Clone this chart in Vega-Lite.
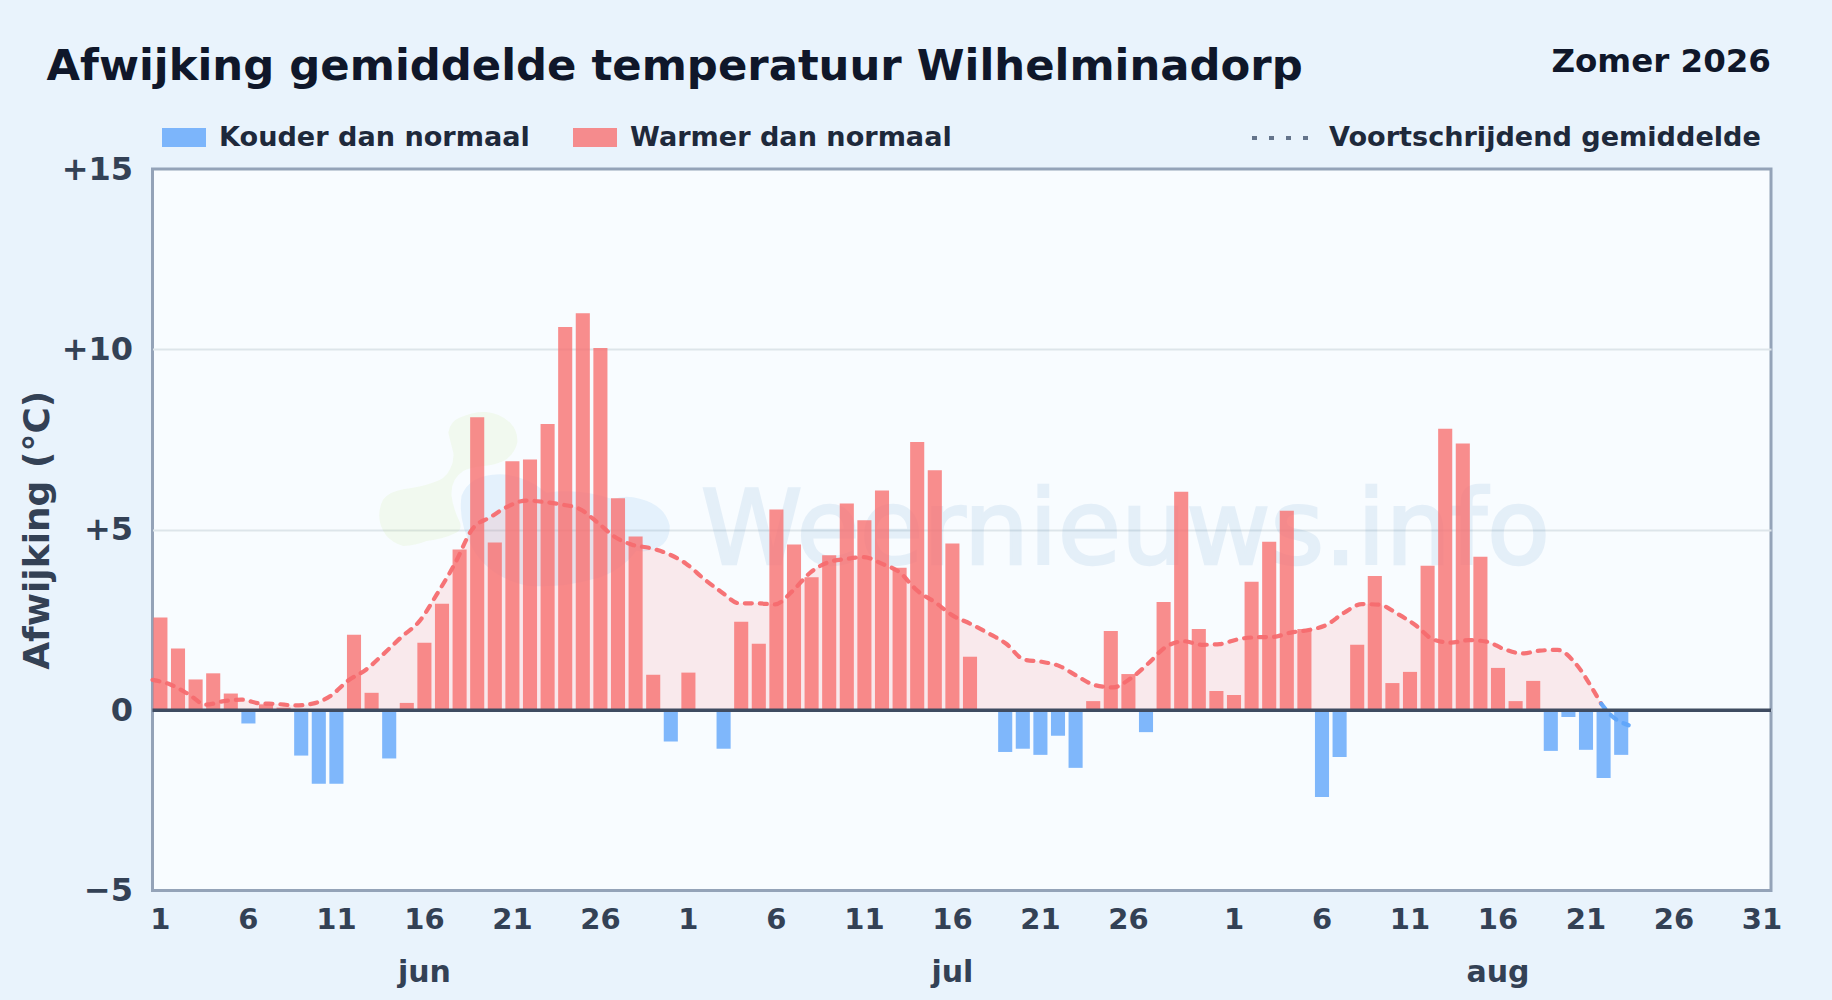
{"$schema":"https://vega.github.io/schema/vega-lite/v6.json","autosize":{"type":"none"},"padding":{"left":152.5,"top":169,"right":61,"bottom":109.5},"width":1618.5,"height":721.5,"background":"#e9f3fc","view":{"fill":"#f8fcff","stroke":"#94a3b8","strokeWidth":3},"config":{"font":"DejaVu Sans"},"title":{"text":"Afwijking gemiddelde temperatuur Wilhelminadorp","anchor":"start","frame":"group","dx":-106,"dy":63,"offset":20,"fontSize":43.35,"fontWeight":"bold","color":"#0f172a","font":"DejaVu Sans"},
"datasets":{"dagen":[{"dag":"06-01","afwijking":2.57,"soort":"Warmer dan normaal"},{"dag":"06-02","afwijking":1.71,"soort":"Warmer dan normaal"},{"dag":"06-03","afwijking":0.85,"soort":"Warmer dan normaal"},{"dag":"06-04","afwijking":1.02,"soort":"Warmer dan normaal"},{"dag":"06-05","afwijking":0.46,"soort":"Warmer dan normaal"},{"dag":"06-06","afwijking":-0.37,"soort":"Kouder dan normaal"},{"dag":"06-07","afwijking":0.16,"soort":"Warmer dan normaal"},{"dag":"06-08","afwijking":0.07,"soort":"Warmer dan normaal"},{"dag":"06-09","afwijking":-1.26,"soort":"Kouder dan normaal"},{"dag":"06-10","afwijking":-2.04,"soort":"Kouder dan normaal"},{"dag":"06-11","afwijking":-2.04,"soort":"Kouder dan normaal"},{"dag":"06-12","afwijking":2.09,"soort":"Warmer dan normaal"},{"dag":"06-13","afwijking":0.48,"soort":"Warmer dan normaal"},{"dag":"06-14","afwijking":-1.34,"soort":"Kouder dan normaal"},{"dag":"06-15","afwijking":0.2,"soort":"Warmer dan normaal"},{"dag":"06-16","afwijking":1.87,"soort":"Warmer dan normaal"},{"dag":"06-17","afwijking":2.95,"soort":"Warmer dan normaal"},{"dag":"06-18","afwijking":4.45,"soort":"Warmer dan normaal"},{"dag":"06-19","afwijking":8.12,"soort":"Warmer dan normaal"},{"dag":"06-20","afwijking":4.65,"soort":"Warmer dan normaal"},{"dag":"06-21","afwijking":6.9,"soort":"Warmer dan normaal"},{"dag":"06-22","afwijking":6.95,"soort":"Warmer dan normaal"},{"dag":"06-23","afwijking":7.93,"soort":"Warmer dan normaal"},{"dag":"06-24","afwijking":10.62,"soort":"Warmer dan normaal"},{"dag":"06-25","afwijking":11.0,"soort":"Warmer dan normaal"},{"dag":"06-26","afwijking":10.04,"soort":"Warmer dan normaal"},{"dag":"06-27","afwijking":5.87,"soort":"Warmer dan normaal"},{"dag":"06-28","afwijking":4.81,"soort":"Warmer dan normaal"},{"dag":"06-29","afwijking":0.98,"soort":"Warmer dan normaal"},{"dag":"06-30","afwijking":-0.87,"soort":"Kouder dan normaal"},{"dag":"07-01","afwijking":1.04,"soort":"Warmer dan normaal"},{"dag":"07-03","afwijking":-1.07,"soort":"Kouder dan normaal"},{"dag":"07-04","afwijking":2.45,"soort":"Warmer dan normaal"},{"dag":"07-05","afwijking":1.84,"soort":"Warmer dan normaal"},{"dag":"07-06","afwijking":5.56,"soort":"Warmer dan normaal"},{"dag":"07-07","afwijking":4.59,"soort":"Warmer dan normaal"},{"dag":"07-08","afwijking":3.68,"soort":"Warmer dan normaal"},{"dag":"07-09","afwijking":4.29,"soort":"Warmer dan normaal"},{"dag":"07-10","afwijking":5.73,"soort":"Warmer dan normaal"},{"dag":"07-11","afwijking":5.26,"soort":"Warmer dan normaal"},{"dag":"07-12","afwijking":6.09,"soort":"Warmer dan normaal"},{"dag":"07-13","afwijking":3.95,"soort":"Warmer dan normaal"},{"dag":"07-14","afwijking":7.43,"soort":"Warmer dan normaal"},{"dag":"07-15","afwijking":6.65,"soort":"Warmer dan normaal"},{"dag":"07-16","afwijking":4.62,"soort":"Warmer dan normaal"},{"dag":"07-17","afwijking":1.48,"soort":"Warmer dan normaal"},{"dag":"07-19","afwijking":-1.16,"soort":"Kouder dan normaal"},{"dag":"07-20","afwijking":-1.07,"soort":"Kouder dan normaal"},{"dag":"07-21","afwijking":-1.24,"soort":"Kouder dan normaal"},{"dag":"07-22","afwijking":-0.71,"soort":"Kouder dan normaal"},{"dag":"07-23","afwijking":-1.6,"soort":"Kouder dan normaal"},{"dag":"07-24","afwijking":0.25,"soort":"Warmer dan normaal"},{"dag":"07-25","afwijking":2.19,"soort":"Warmer dan normaal"},{"dag":"07-26","afwijking":1.0,"soort":"Warmer dan normaal"},{"dag":"07-27","afwijking":-0.61,"soort":"Kouder dan normaal"},{"dag":"07-28","afwijking":3.0,"soort":"Warmer dan normaal"},{"dag":"07-29","afwijking":6.05,"soort":"Warmer dan normaal"},{"dag":"07-30","afwijking":2.25,"soort":"Warmer dan normaal"},{"dag":"07-31","afwijking":0.53,"soort":"Warmer dan normaal"},{"dag":"08-01","afwijking":0.42,"soort":"Warmer dan normaal"},{"dag":"08-02","afwijking":3.56,"soort":"Warmer dan normaal"},{"dag":"08-03","afwijking":4.67,"soort":"Warmer dan normaal"},{"dag":"08-04","afwijking":5.53,"soort":"Warmer dan normaal"},{"dag":"08-05","afwijking":2.25,"soort":"Warmer dan normaal"},{"dag":"08-06","afwijking":-2.41,"soort":"Kouder dan normaal"},{"dag":"08-07","afwijking":-1.3,"soort":"Kouder dan normaal"},{"dag":"08-08","afwijking":1.81,"soort":"Warmer dan normaal"},{"dag":"08-09","afwijking":3.72,"soort":"Warmer dan normaal"},{"dag":"08-10","afwijking":0.75,"soort":"Warmer dan normaal"},{"dag":"08-11","afwijking":1.06,"soort":"Warmer dan normaal"},{"dag":"08-12","afwijking":4.0,"soort":"Warmer dan normaal"},{"dag":"08-13","afwijking":7.8,"soort":"Warmer dan normaal"},{"dag":"08-14","afwijking":7.39,"soort":"Warmer dan normaal"},{"dag":"08-15","afwijking":4.25,"soort":"Warmer dan normaal"},{"dag":"08-16","afwijking":1.17,"soort":"Warmer dan normaal"},{"dag":"08-17","afwijking":0.25,"soort":"Warmer dan normaal"},{"dag":"08-18","afwijking":0.81,"soort":"Warmer dan normaal"},{"dag":"08-19","afwijking":-1.13,"soort":"Kouder dan normaal"},{"dag":"08-20","afwijking":-0.19,"soort":"Kouder dan normaal"},{"dag":"08-21","afwijking":-1.1,"soort":"Kouder dan normaal"},{"dag":"08-22","afwijking":-1.88,"soort":"Kouder dan normaal"},{"dag":"08-23","afwijking":-1.24,"soort":"Kouder dan normaal"}],
"lijn":[{"n":1,"g":0.84,"t":"warm"},{"n":2,"g":0.71,"t":"warm"},{"n":3,"g":0.45,"t":"warm"},{"n":4,"g":0.15,"t":"warm"},{"n":5,"g":0.25,"t":"warm"},{"n":6,"g":0.29,"t":"warm"},{"n":7,"g":0.19,"t":"warm"},{"n":8,"g":0.17,"t":"warm"},{"n":9,"g":0.13,"t":"warm"},{"n":10,"g":0.18,"t":"warm"},{"n":11,"g":0.39,"t":"warm"},{"n":12,"g":0.82,"t":"warm"},{"n":13,"g":1.12,"t":"warm"},{"n":14,"g":1.56,"t":"warm"},{"n":15,"g":2.03,"t":"warm"},{"n":16,"g":2.46,"t":"warm"},{"n":17,"g":3.22,"t":"warm"},{"n":18,"g":4.06,"t":"warm"},{"n":19,"g":5.03,"t":"warm"},{"n":20,"g":5.35,"t":"warm"},{"n":21,"g":5.65,"t":"warm"},{"n":22,"g":5.81,"t":"warm"},{"n":23,"g":5.77,"t":"warm"},{"n":24,"g":5.7,"t":"warm"},{"n":25,"g":5.58,"t":"warm"},{"n":26,"g":5.21,"t":"warm"},{"n":27,"g":4.8,"t":"warm"},{"n":28,"g":4.58,"t":"warm"},{"n":29,"g":4.49,"t":"warm"},{"n":30,"g":4.33,"t":"warm"},{"n":31,"g":4.06,"t":"warm"},{"n":32,"g":3.64,"t":"warm"},{"n":33,"g":3.27,"t":"warm"},{"n":34,"g":2.96,"t":"warm"},{"n":35,"g":2.96,"t":"warm"},{"n":36,"g":2.93,"t":"warm"},{"n":37,"g":3.31,"t":"warm"},{"n":38,"g":3.82,"t":"warm"},{"n":39,"g":4.1,"t":"warm"},{"n":40,"g":4.19,"t":"warm"},{"n":41,"g":4.24,"t":"warm"},{"n":42,"g":4.06,"t":"warm"},{"n":43,"g":3.82,"t":"warm"},{"n":44,"g":3.31,"t":"warm"},{"n":45,"g":2.99,"t":"warm"},{"n":46,"g":2.62,"t":"warm"},{"n":47,"g":2.39,"t":"warm"},{"n":48,"g":2.13,"t":"warm"},{"n":49,"g":1.84,"t":"warm"},{"n":50,"g":1.4,"t":"warm"},{"n":51,"g":1.34,"t":"warm"},{"n":52,"g":1.22,"t":"warm"},{"n":53,"g":0.94,"t":"warm"},{"n":54,"g":0.69,"t":"warm"},{"n":55,"g":0.63,"t":"warm"},{"n":56,"g":0.88,"t":"warm"},{"n":57,"g":1.3,"t":"warm"},{"n":58,"g":1.76,"t":"warm"},{"n":59,"g":1.91,"t":"warm"},{"n":60,"g":1.81,"t":"warm"},{"n":61,"g":1.83,"t":"warm"},{"n":62,"g":1.96,"t":"warm"},{"n":63,"g":2.02,"t":"warm"},{"n":64,"g":2.03,"t":"warm"},{"n":65,"g":2.15,"t":"warm"},{"n":66,"g":2.22,"t":"warm"},{"n":67,"g":2.36,"t":"warm"},{"n":68,"g":2.7,"t":"warm"},{"n":69,"g":2.94,"t":"warm"},{"n":70,"g":2.92,"t":"warm"},{"n":71,"g":2.67,"t":"warm"},{"n":72,"g":2.36,"t":"warm"},{"n":73,"g":1.96,"t":"warm"},{"n":74,"g":1.87,"t":"warm"},{"n":75,"g":1.94,"t":"warm"},{"n":76,"g":1.9,"t":"warm"},{"n":77,"g":1.69,"t":"warm"},{"n":78,"g":1.57,"t":"warm"},{"n":79,"g":1.65,"t":"warm"},{"n":80,"g":1.67,"t":"warm"},{"n":81,"g":1.3,"t":"warm"},{"n":82,"g":0.56,"t":"warm"},{"n":82.45,"g":0.18,"t":"warm"},{"n":82.45,"g":0.18,"t":"koud"},{"n":83,"g":-0.14,"t":"koud"},{"n":84,"g":-0.42,"t":"koud"}],
"maanden":[{"dag":"06-16","maand":"jun"},{"dag":"07-16","maand":"jul"},{"dag":"08-16","maand":"aug"}]},
"resolve":{"scale":{"x":"independent"},"axis":{"x":"independent"}},
"layer":[
{"data":{"values":[{"n":17.63,"w":6.4}]},"mark":{"type":"point","filled":true,"opacity":0.07,"size":4,"fill":"#a0d020","stroke":null,"shape":"M0,-46.7 Q2,-58 11.7,-61.7 Q25,-68 38.3,-67.3 Q52,-66 61.7,-56.7 Q70,-48 69,-36.7 Q67,-27 58.3,-20 Q48,-14 35,-13.3 Q22,-12 15,-8.3 Q2,0 3.3,16.7 Q5,30 11.7,43.3 Q14,50 8.3,53.3 Q-5,60 -21.7,61.7 Q-33,66 -45,66.7 Q-55,64 -61.7,56.7 Q-69,47 -69,36.7 Q-69,27 -65,20 Q-58,12 -45,10 Q-28,8 -15,3.3 Q-3,0 1.7,-10 Q6,-18 5,-26.7 Q2,-38 0,-46.7Z"},"encoding":{"x":{"field":"n","type":"quantitative","scale":{"domain":[1,92]},"axis":null},"y":{"field":"w","type":"quantitative","scale":{"domain":[-5,15],"nice":false},"axis":{"values":[-5,0,5,10,15],"grid":true,"gridColor":"#dde5ea","gridWidth":2,"gridOpacity":{"condition":{"test":"datum.value === 15 || datum.value === -5","value":0},"value":1},"domain":false,"ticks":false,"labelFontSize":32,"labelFontWeight":"bold","labelColor":"#334155","labelPadding":20,"labelExpr":"datum.value > 0 ? '+' + datum.value : datum.value < 0 ? '−' + abs(datum.value) : '0'","title":"Afwijking (°C)","titleFontSize":36,"titleFontWeight":"bold","titleColor":"#334155","titlePadding":4.5}}}},
{"data":{"values":[{"n":23.9,"w":4.92}]},"mark":{"type":"point","filled":true,"opacity":0.12,"size":4,"fill":"#5aa5e5","stroke":null,"shape":"M-98.3,-36.7 Q-90,-58 -60,-58.3 Q-35,-58 -13.3,-40 Q20,-45 53.3,-33.3 Q65,-38 80,-34 Q105,-28 110,-6.7 Q110,12 93.3,16.7 Q85,20 76.7,18 Q60,40 33,46.7 Q0,56 -33,53 Q-70,45 -86.7,16.7 Q-102,-10 -98.3,-36.7Z"},"encoding":{"x":{"field":"n","type":"quantitative","scale":{"domain":[1,92]},"axis":null},"y":{"field":"w","type":"quantitative","scale":{"domain":[-5,15],"nice":false}}}},
{"data":{"values":[{"n":55.7,"w":4.04,"tekst":"Weernieuws.info"}]},"mark":{"type":"text","fontSize":103,"font":"DejaVu Sans","color":"#3b82c4","stroke":"#3b82c4","strokeWidth":2.5,"opacity":0.1,"baseline":"alphabetic","align":"center"},"encoding":{"text":{"field":"tekst"},"x":{"field":"n","type":"quantitative","scale":{"domain":[1,92]},"axis":null},"y":{"field":"w","type":"quantitative","scale":{"domain":[-5,15],"nice":false}}}},
{"data":{"name":"lijn"},"mark":{"type":"area","interpolate":"monotone","opacity":0.13},"encoding":{"x":{"field":"n","type":"quantitative","scale":{"domain":[1,92]},"axis":null},"y":{"field":"g","type":"quantitative","scale":{"domain":[-5,15],"nice":false}},"y2":{"datum":0},"fill":{"field":"t","type":"nominal","legend":null,"scale":{"domain":["warm","koud"],"range":["#ff6b6b","#60a5fa"]}}}},
{"layer":[
{"data":{"name":"dagen"},"mark":{"type":"bar","opacity":0.8},"encoding":{"x":{"field":"dag","type":"ordinal","scale":{"type":"band","range":[-0.9,1618.3],"paddingInner":0.2,"paddingOuter":0.1,"domain":["06-01","06-02","06-03","06-04","06-05","06-06","06-07","06-08","06-09","06-10","06-11","06-12","06-13","06-14","06-15","06-16","06-17","06-18","06-19","06-20","06-21","06-22","06-23","06-24","06-25","06-26","06-27","06-28","06-29","06-30","07-01","07-02","07-03","07-04","07-05","07-06","07-07","07-08","07-09","07-10","07-11","07-12","07-13","07-14","07-15","07-16","07-17","07-18","07-19","07-20","07-21","07-22","07-23","07-24","07-25","07-26","07-27","07-28","07-29","07-30","07-31","08-01","08-02","08-03","08-04","08-05","08-06","08-07","08-08","08-09","08-10","08-11","08-12","08-13","08-14","08-15","08-16","08-17","08-18","08-19","08-20","08-21","08-22","08-23","08-24","08-25","08-26","08-27","08-28","08-29","08-30","08-31"]},"axis":{"values":["06-01","06-06","06-11","06-16","06-21","06-26","07-01","07-06","07-11","07-16","07-21","07-26","08-01","08-06","08-11","08-16","08-21","08-26","08-31"],"labelExpr":"toNumber(slice(datum.value,3))","labelAngle":0,"labelFontSize":29,"labelFontWeight":"bold","labelColor":"#334155","labelPadding":15,"labelOverlap":false,"labelBound":false,"labelFlush":false,"ticks":false,"domain":false,"grid":false,"title":null}},"y":{"field":"afwijking","type":"quantitative","stack":null,"scale":{"domain":[-5,15],"nice":false}},"color":{"field":"soort","type":"nominal","scale":{"domain":["Kouder dan normaal","Warmer dan normaal"],"range":["#60a5fa","#f87171"]},"legend":{"orient":"none","legendX":9.5,"legendY":-53,"direction":"horizontal","columns":2,"title":null,"symbolType":"M-1,-0.47H1V0.39H-1Z","symbolSize":1936,"symbolOpacity":0.8,"symbolStrokeWidth":0,"labelFontSize":27.1,"labelFontWeight":"bold","labelColor":"#1e293b","labelOffset":13,"columnPadding":43,"padding":0,"labelLimit":600}}}},
{"data":{"name":"maanden"},"mark":{"type":"text","fontSize":30,"fontWeight":"bold","color":"#334155","yOffset":82,"baseline":"middle"},"encoding":{"x":{"field":"dag","type":"ordinal"},"y":{"datum":-5,"scale":{"domain":[-5,15],"nice":false}},"text":{"field":"maand"}}}
]},
{"data":{"name":"lijn"},"mark":{"type":"line","interpolate":"monotone","strokeWidth":4.2,"strokeCap":"round","opacity":0.95,"strokeDash":[7,8]},"encoding":{"x":{"field":"n","type":"quantitative","scale":{"domain":[1,92]},"axis":null},"y":{"field":"g","type":"quantitative","scale":{"domain":[-5,15],"nice":false}},"stroke":{"field":"t","type":"nominal","legend":null,"scale":{"domain":["warm","koud"],"range":["#f56b6f","#60a5fa"]}}}},
{"data":{"values":[{"n":1,"g":16},{"n":2,"g":16}]},"mark":{"type":"line","stroke":"#64748b","opacity":0,"clip":true},"encoding":{"x":{"field":"n","type":"quantitative","scale":{"domain":[1,92]},"axis":null},"y":{"field":"g","type":"quantitative","scale":{"domain":[-5,15],"nice":false}},"strokeDash":{"datum":"Voortschrijdend gemiddelde","type":"nominal","scale":{"domain":["Voortschrijdend gemiddelde"],"range":[[5,12]]},"legend":{"orient":"none","legendX":1097.5,"legendY":-62,"title":null,"symbolType":"stroke","symbolSize":3364,"symbolStrokeWidth":4,"symbolOpacity":1,"symbolStrokeColor":"#64748b","labelFontSize":27.1,"labelFontWeight":"bold","labelColor":"#1e293b","labelOffset":17,"padding":0,"labelLimit":600}}}},
{"data":{"values":[{"nul":0}]},"mark":{"type":"rule","color":"#3f4c61","strokeWidth":3.5},"encoding":{"y":{"field":"nul","type":"quantitative","scale":{"domain":[-5,15],"nice":false}}}},
{"data":{"values":[{"n":92,"w":15,"tekst":"Zomer 2026"}]},"mark":{"type":"text","fontSize":32.5,"fontWeight":"bold","color":"#0f172a","align":"right","baseline":"alphabetic","yOffset":-97},"encoding":{"text":{"field":"tekst"},"x":{"field":"n","type":"quantitative","scale":{"domain":[1,92]},"axis":null},"y":{"field":"w","type":"quantitative","scale":{"domain":[-5,15],"nice":false}}}}
]}
